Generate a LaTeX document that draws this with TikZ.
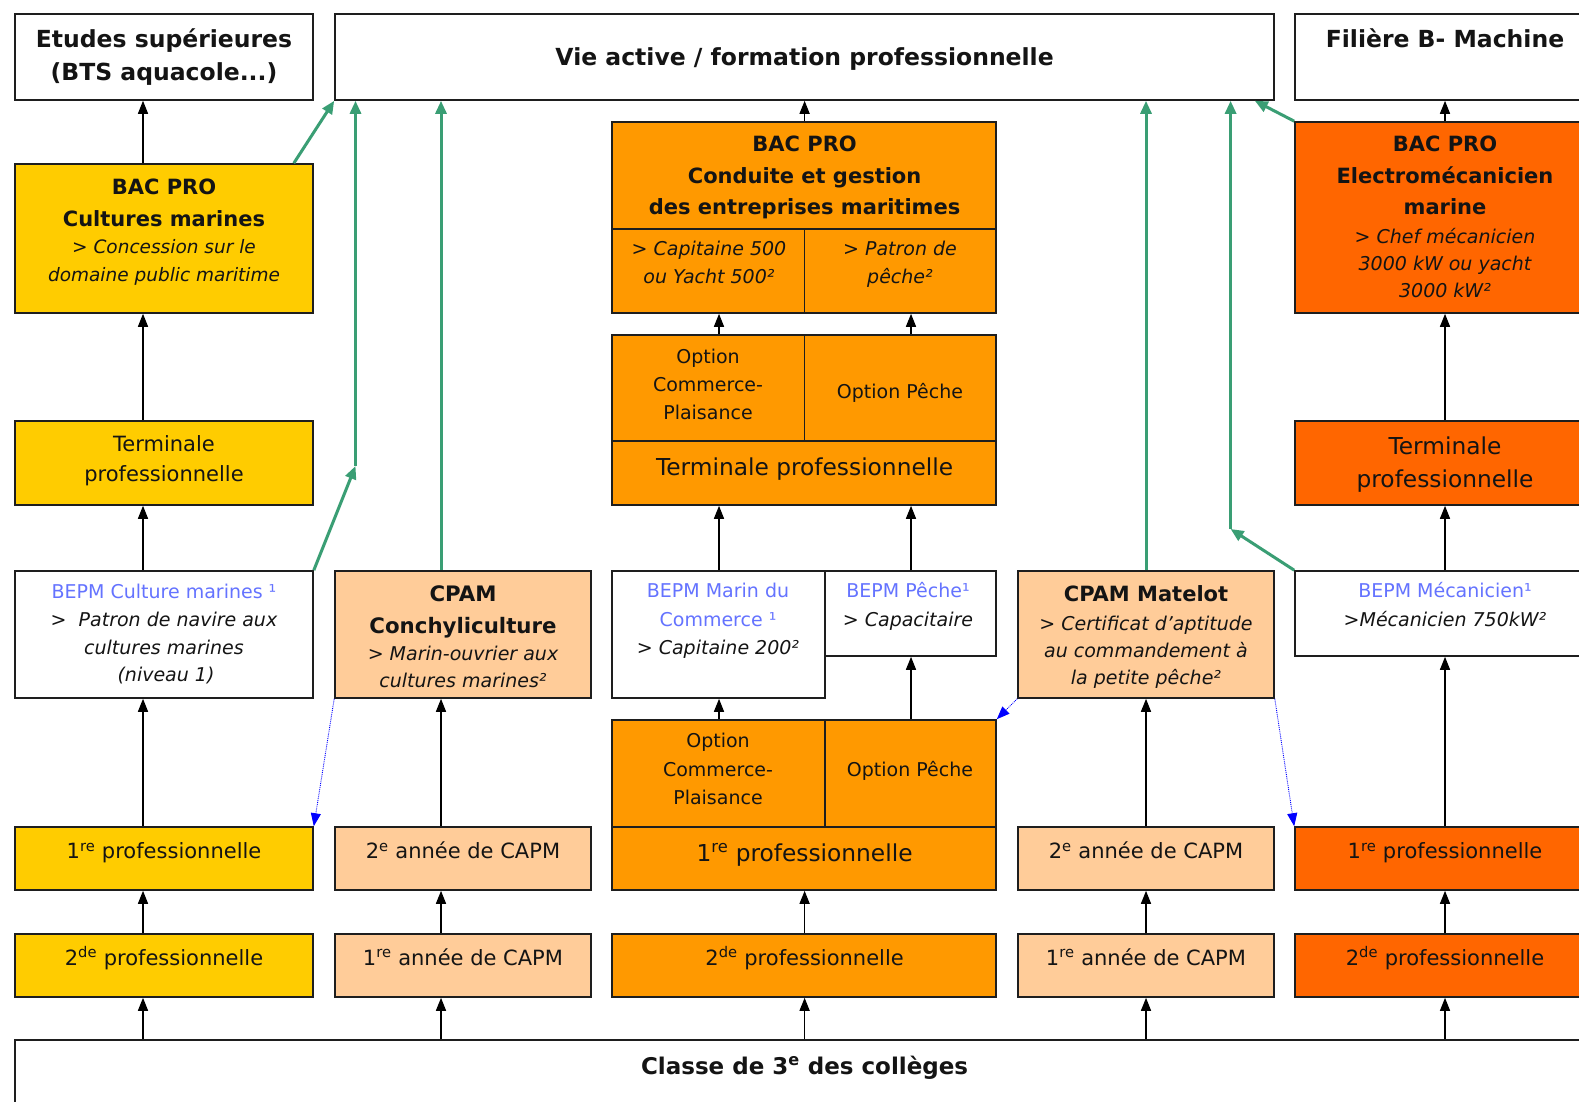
\documentclass[tikz,border=0pt]{standalone}
\usepackage{fontspec}
\setmainfont{DejaVu Sans}
\usetikzlibrary{arrows.meta,fit,calc}
\definecolor{cyel}{HTML}{FFCC00}
\definecolor{cora}{HTML}{FF9900}
\definecolor{cred}{HTML}{FF6600}
\definecolor{cpea}{HTML}{FFCC99}
\definecolor{cgrn}{RGB}{58,158,116}
\definecolor{cblu}{RGB}{100,115,255}
\definecolor{cbrd}{RGB}{30,30,30}
\newcommand\fsz[2]{\fontsize{#1}{#2}\selectfont}
\newcommand\tline[4]{\node[txt,anchor=base,font=#3] (#1) at (#2) {#4};}
\newcommand\bline[3]{\node[txt,anchor=base,font=\fsz{19}{23},text=cblu] (#1) at (#2) {#3};}
\begin{document}
\begin{tikzpicture}[x=1pt,y=-1pt,
  box/.style={draw=cbrd, line width=1.6pt, inner sep=0pt},
  txt/.style={inner sep=0pt, text=black!92},
  up/.style={-{Triangle[length=13pt,width=10pt]}, line width=1.4pt, black},
  grn/.style={-{Triangle[length=13pt,width=11pt]}, line width=3pt, cgrn},
  blu/.style={-{Triangle[length=13pt,width=10pt]}, line width=0.9pt, blue, densely dotted},
]
\path[use as bounding box, fill=white] (0,0) rectangle (1579,1102);
\clip (0,0) rectangle (1579,1102);

% ---------- boxes ----------
\node[box, fill=white, fit={(15,14) (313,100)}] (etu) {};
\node[box, fill=white, fit={(335,14) (1274,100)}] (vie) {};
\node[box, fill=white, fit={(1295,14) (1600,100)}] (fil) {};
\node[box, fill=cyel, fit={(15,164) (313,313)}] (cmbac) {};
\node[box, fill=cora, fit={(612,122) (996,229)}] (condt) {};
\node[box, fill=cora, fit={(612,229) (804.6,313)}] (capc) {};
\node[box, fill=cora, fit={(804.6,229) (996,313)}] (patc) {};
\node[box, fill=cred, fit={(1295,122) (1600,313)}] (elec) {};
\node[box, fill=cyel, fit={(15,421) (313,505)}] (termy) {};
\node[box, fill=cora, fit={(612,335) (804.6,441)}] (ocp) {};
\node[box, fill=cora, fit={(804.6,335) (996,441)}] (ope) {};
\node[box, fill=cora, fit={(612,441) (996,505)}] (termo) {};
\node[box, fill=cred, fit={(1295,421) (1600,505)}] (termr) {};
\node[box, fill=white, fit={(15,571) (313,698)}] (bepmcm) {};
\node[box, fill=cpea, fit={(335,571) (591,698)}] (cpamc) {};
\node[box, fill=white, fit={(612,571) (824.7,698)}] (bepmmc) {};
\node[box, fill=white, fit={(824.7,571) (996,656)}] (bepmp) {};
\node[box, fill=cpea, fit={(1018,571) (1274,698)}] (cpamm) {};
\node[box, fill=white, fit={(1295,571) (1600,656)}] (bepmme) {};
\node[box, fill=cora, fit={(612,720) (824.7,827)}] (ocpb) {};
\node[box, fill=cora, fit={(824.7,720) (996,827)}] (opeb) {};
\node[box, fill=cyel, fit={(15,827) (313,890)}] (pro1y) {};
\node[box, fill=cpea, fit={(335,827) (591,890)}] (cap2c) {};
\node[box, fill=cora, fit={(612,827) (996,890)}] (pro1o) {};
\node[box, fill=cpea, fit={(1018,827) (1274,890)}] (cap2m) {};
\node[box, fill=cred, fit={(1295,827) (1600,890)}] (pro1r) {};
\node[box, fill=cyel, fit={(15,934) (313,997)}] (pro2y) {};
\node[box, fill=cpea, fit={(335,934) (591,997)}] (cap1c) {};
\node[box, fill=cora, fit={(612,934) (996,997)}] (pro2o) {};
\node[box, fill=cpea, fit={(1018,934) (1274,997)}] (cap1m) {};
\node[box, fill=cred, fit={(1295,934) (1600,997)}] (pro2r) {};
\node[box, fill=white, fit={(15,1040) (1600,1120)}] (cls) {};

% ---------- column positions ----------
\coordinate (xa) at (143,0);
\coordinate (xb) at (441,0);
\coordinate (xc) at (804.6,0);
\coordinate (xl) at (719,0);
\coordinate (xr) at (911,0);
\coordinate (xd) at (1146,0);
\coordinate (xe) at (1445,0);

% ---------- black arrows ----------
\draw[up] (cmbac.north -| xa) -- (etu.south -| xa);
\draw[up] (termy.north -| xa) -- (cmbac.south -| xa);
\draw[up] (bepmcm.north -| xa) -- (termy.south -| xa);
\draw[up] (pro1y.north -| xa) -- (bepmcm.south -| xa);
\draw[up] (pro2y.north -| xa) -- (pro1y.south -| xa);
\draw[up] (cls.north -| xa) -- (pro2y.south -| xa);
\draw[up] (cap2c.north -| xb) -- (cpamc.south -| xb);
\draw[up] (cap1c.north -| xb) -- (cap2c.south -| xb);
\draw[up] (cls.north -| xb) -- (cap1c.south -| xb);
\draw[up] (condt.north -| xc) -- (vie.south -| xc);
\draw[up] (ocp.north -| xl) -- (capc.south -| xl);
\draw[up] (ope.north -| xr) -- (patc.south -| xr);
\draw[up] (bepmmc.north -| xl) -- (termo.south -| xl);
\draw[up] (bepmp.north -| xr) -- (termo.south -| xr);
\draw[up] (ocpb.north -| xl) -- (bepmmc.south -| xl);
\draw[up] (opeb.north -| xr) -- (bepmp.south -| xr);
\draw[up] (pro2o.north -| xc) -- (pro1o.south -| xc);
\draw[up] (cls.north -| xc) -- (pro2o.south -| xc);
\draw[up] (cap2m.north -| xd) -- (cpamm.south -| xd);
\draw[up] (cap1m.north -| xd) -- (cap2m.south -| xd);
\draw[up] (cls.north -| xd) -- (cap1m.south -| xd);
\draw[up] (elec.north -| xe) -- (fil.south -| xe);
\draw[up] (termr.north -| xe) -- (elec.south -| xe);
\draw[up] (bepmme.north -| xe) -- (termr.south -| xe);
\draw[up] (pro1r.north -| xe) -- (bepmme.south -| xe);
\draw[up] (pro2r.north -| xe) -- (pro1r.south -| xe);
\draw[up] (cls.north -| xe) -- (pro2r.south -| xe);

% ---------- green arrows ----------
\coordinate (gc1) at (355.5,466);
\coordinate (gc2) at (1230.6,529);
\draw[grn] ($(cmbac.north east)+(-20,0)$) -- (vie.south west);
\draw[grn] (bepmcm.north east) -- (gc1);
\draw[grn] (gc1) -- (vie.south -| gc1);
\draw[grn] (cpamc.north -| xb) -- (vie.south -| xb);
\draw[grn] (cpamm.north -| xd) -- (vie.south -| xd);
\draw[grn] (bepmme.north west) -- (gc2);
\draw[grn] (gc2) -- (vie.south -| gc2);
\draw[grn] (elec.north west) -- ($(vie.south east)+(-20,0)$);

% ---------- blue dotted arrows ----------
\draw[blu] (cpamc.south west) -- (pro1y.north east);
\draw[blu] (cpamm.south west) -- (opeb.north east);
\draw[blu] (cpamm.south east) -- (pro1r.north west);

% ---------- texts ----------
\tline{t1}{164,48}{\fsz{23.5}{28}\bfseries}{Etudes supérieures}
\tline{t2}{164,81}{\fsz{23.5}{28}\bfseries}{(BTS aquacole...)}
\tline{t3}{804.6,65.6}{\fsz{23.5}{28}\bfseries}{Vie active / formation professionnelle}
\tline{t4}{1445,48}{\fsz{23.5}{28}\bfseries}{Filière B- Machine}

\tline{t5}{164,195}{\fsz{21}{25}\bfseries}{BAC PRO}
\tline{t6}{164,226.2}{\fsz{21}{25}\bfseries}{Cultures marines}
\tline{t7}{164,253.5}{\fsz{18.5}{22}\itshape}{> Concession sur le}
\tline{t8}{164,281.7}{\fsz{18.5}{22}\itshape}{domaine public maritime}

\tline{t9}{804.6,151.7}{\fsz{21}{25}\bfseries}{BAC PRO}
\tline{t10}{804.6,183.9}{\fsz{21}{25}\bfseries}{Conduite et gestion}
\tline{t11}{804.6,214.1}{\fsz{21}{25}\bfseries}{des entreprises maritimes}
\tline{t12}{709,255.6}{\fsz{19}{23}\itshape}{> Capitaine 500}
\tline{t13}{709,283.9}{\fsz{19}{23}\itshape}{ou Yacht 500²}
\tline{t14}{900,255.6}{\fsz{19}{23}\itshape}{> Patron de}
\tline{t15}{900,283.9}{\fsz{19}{23}\itshape}{pêche²}

\tline{t16}{1445,151.7}{\fsz{21}{25}\bfseries}{BAC PRO}
\tline{t17}{1445,183.9}{\fsz{21}{25}\bfseries}{Electromécanicien}
\tline{t18}{1445,214.1}{\fsz{21}{25}\bfseries}{marine}
\tline{t19}{1445,243.6}{\fsz{19}{23}\itshape}{> Chef mécanicien}
\tline{t20}{1445,270.7}{\fsz{19}{23}\itshape}{3000 kW ou yacht}
\tline{t21}{1445,297.9}{\fsz{19}{23}\itshape}{3000 kW²}

\tline{t22}{164,451.7}{\fsz{21}{25}}{Terminale}
\tline{t23}{164,481}{\fsz{21}{25}}{professionnelle}
\tline{t24}{708,363.4}{\fsz{19}{23}}{Option}
\tline{t25}{708,391.6}{\fsz{19}{23}}{Commerce-}
\tline{t26}{708,419.8}{\fsz{19}{23}}{Plaisance}
\tline{t27}{900,398.6}{\fsz{19}{23}}{Option Pêche}
\tline{t28}{804.6,475.7}{\fsz{23.3}{28}}{Terminale professionnelle}
\tline{t29}{1445,454.5}{\fsz{23.3}{28}}{Terminale}
\tline{t30}{1445,487.8}{\fsz{23.3}{28}}{professionnelle}

\bline{t31}{164,598}{BEPM Culture marines ¹}
\tline{t32}{164,626.2}{\fsz{19}{23}\itshape}{>~ Patron de navire aux}
\tline{t33}{164,654.4}{\fsz{19}{23}\itshape}{cultures marines}
\tline{t34}{166,681.6}{\fsz{19}{23}\itshape}{(niveau 1)}

\tline{t35}{463,601.7}{\fsz{21.3}{25}\bfseries}{CPAM}
\tline{t36}{463,633}{\fsz{21.3}{25}\bfseries}{Conchyliculture}
\tline{t37}{463,660.4}{\fsz{19}{23}\itshape}{> Marin-ouvrier aux}
\tline{t38}{463,687.6}{\fsz{19}{23}\itshape}{cultures marines²}

\bline{t39}{718,597.9}{BEPM Marin du}
\bline{t40}{718,626.2}{Commerce ¹}
\tline{t41}{718,654.4}{\fsz{19}{23}\itshape}{> Capitaine 200²}
\bline{t42}{908,597.9}{BEPM Pêche¹}
\tline{t43}{908,626.2}{\fsz{19}{23}\itshape}{> Capacitaire}

\tline{t44}{1146,601.7}{\fsz{21}{25}\bfseries}{CPAM Matelot}
\tline{t45}{1146,630.2}{\fsz{19}{23}\itshape}{> Certificat d’aptitude}
\tline{t46}{1146,657.4}{\fsz{19}{23}\itshape}{au commandement à}
\tline{t47}{1146,684.6}{\fsz{19}{23}\itshape}{la petite pêche²}

\bline{t48}{1445,597.9}{BEPM Mécanicien¹}
\tline{t49}{1445,626.2}{\fsz{19}{23}\itshape}{>Mécanicien 750kW²}

\tline{t50}{718,747.9}{\fsz{19}{23}}{Option}
\tline{t51}{718,776.3}{\fsz{19}{23}}{Commerce-}
\tline{t52}{718,804.4}{\fsz{19}{23}}{Plaisance}
\tline{t53}{910,776.3}{\fsz{19}{23}}{Option Pêche}

\tline{t54}{164,858.7}{\fsz{21}{25}}{1\textsuperscript{re} professionnelle}
\tline{t55}{463,858.7}{\fsz{21}{25}}{2\textsuperscript{e} année de CAPM}
\tline{t56}{804.6,861.5}{\fsz{23.3}{28}}{1\textsuperscript{re} professionnelle}
\tline{t57}{1146,858.7}{\fsz{21}{25}}{2\textsuperscript{e} année de CAPM}
\tline{t58}{1445,858.7}{\fsz{21}{25}}{1\textsuperscript{re} professionnelle}

\tline{t59}{164,965.3}{\fsz{21}{25}}{2\textsuperscript{de} professionnelle}
\tline{t60}{463,965.3}{\fsz{21}{25}}{1\textsuperscript{re} année de CAPM}
\tline{t61}{804.6,965.3}{\fsz{21}{25}}{2\textsuperscript{de} professionnelle}
\tline{t62}{1146,965.3}{\fsz{21}{25}}{1\textsuperscript{re} année de CAPM}
\tline{t63}{1445,965.3}{\fsz{21}{25}}{2\textsuperscript{de} professionnelle}

\tline{t64}{804.6,1074.8}{\fsz{23}{28}\bfseries}{Classe de 3\textsuperscript{e} des collèges}
\end{tikzpicture}
\end{document}
